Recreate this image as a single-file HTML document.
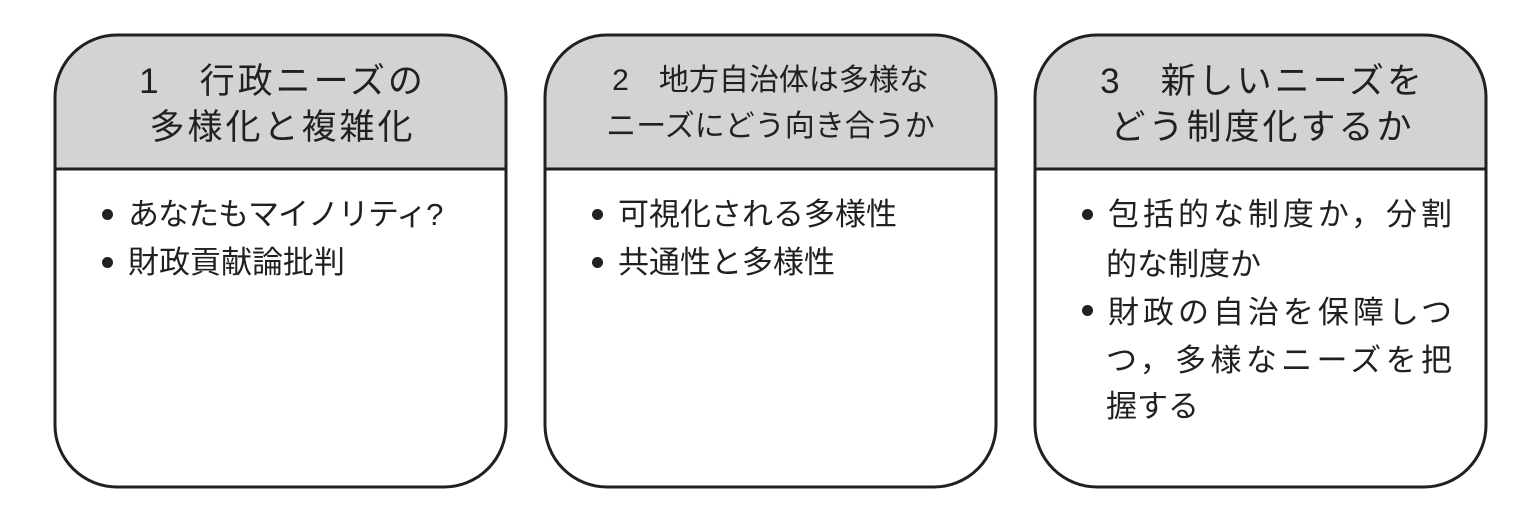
<!DOCTYPE html>
<html><head><meta charset="utf-8"><style>
body{margin:0;width:1534px;height:529px;background:#fff;position:relative;overflow:hidden;font-family:"Liberation Sans","Noto Sans CJK JP",sans-serif;color:#231f20}
.t{position:absolute;white-space:nowrap;line-height:1}
.h{font-size:35px;text-align:center;width:451px;letter-spacing:3px}
.h2{font-size:30px;letter-spacing:0}
.b{font-size:31px}
.dot{position:absolute;width:11px;height:11px;border-radius:50%;background:#231f20}
.j{text-align:justify;text-align-last:justify;width:344px}
</style></head><body>
<svg width="1534" height="529" style="position:absolute;left:0;top:0">
<defs>
<clipPath id="c1"><rect x="55" y="35" width="451" height="452" rx="62"/></clipPath>
<clipPath id="c2"><rect x="545" y="35" width="451" height="452" rx="62"/></clipPath>
<clipPath id="c3"><rect x="1035" y="35" width="451" height="452" rx="62"/></clipPath>
</defs>
<g fill="#d1d3d4">
<rect x="55" y="35" width="451" height="134" clip-path="url(#c1)"/>
<rect x="545" y="35" width="451" height="134" clip-path="url(#c2)"/>
<rect x="1035" y="35" width="451" height="134" clip-path="url(#c3)"/>
</g>
<g fill="none" stroke="#231f20" stroke-width="3">
<rect x="55" y="35" width="451" height="452" rx="62"/>
<rect x="545" y="35" width="451" height="452" rx="62"/>
<rect x="1035" y="35" width="451" height="452" rx="62"/>
<line x1="55" y1="169" x2="506" y2="169"/>
<line x1="545" y1="169" x2="996" y2="169"/>
<line x1="1035" y1="169" x2="1486" y2="169"/>
</g>
</svg>
<div class="t h" style="left:57px;top:64px">1　行政ニーズの</div>
<div class="t h" style="left:57px;top:110px">多様化と複雑化</div>
<div class="t h h2" style="left:545px;top:66px">2　地方自治体は多様な</div>
<div class="t h h2" style="left:545px;top:112px">ニーズにどう向き合うか</div>
<div class="t h" style="left:1037px;top:64px">3　新しいニーズを</div>
<div class="t h" style="left:1037px;top:110px">どう制度化するか</div>

<div class="dot" style="left:102px;top:209px"></div>
<div class="t b" style="left:128px;top:199px;letter-spacing:-1px">あなたもマイノリティ?</div>
<div class="dot" style="left:102px;top:257px"></div>
<div class="t b" style="left:128px;top:247px">財政貢献論批判</div>

<div class="dot" style="left:592px;top:209px"></div>
<div class="t b" style="left:618px;top:199px">可視化される多様性</div>
<div class="dot" style="left:592px;top:257px"></div>
<div class="t b" style="left:618px;top:247px">共通性と多様性</div>

<div class="dot" style="left:1082px;top:209px"></div>
<div class="t b j" style="left:1108px;top:199px">包括的な制度か，分割</div>
<div class="t b" style="left:1106px;top:249px">的な制度か</div>
<div class="dot" style="left:1082px;top:305px"></div>
<div class="t b j" style="left:1108px;top:297px">財政の自治を保障しつ</div>
<div class="t b j" style="left:1106px;top:345px;width:346px">つ，多様なニーズを把</div>
<div class="t b" style="left:1106px;top:391px">握する</div>
</body></html>
